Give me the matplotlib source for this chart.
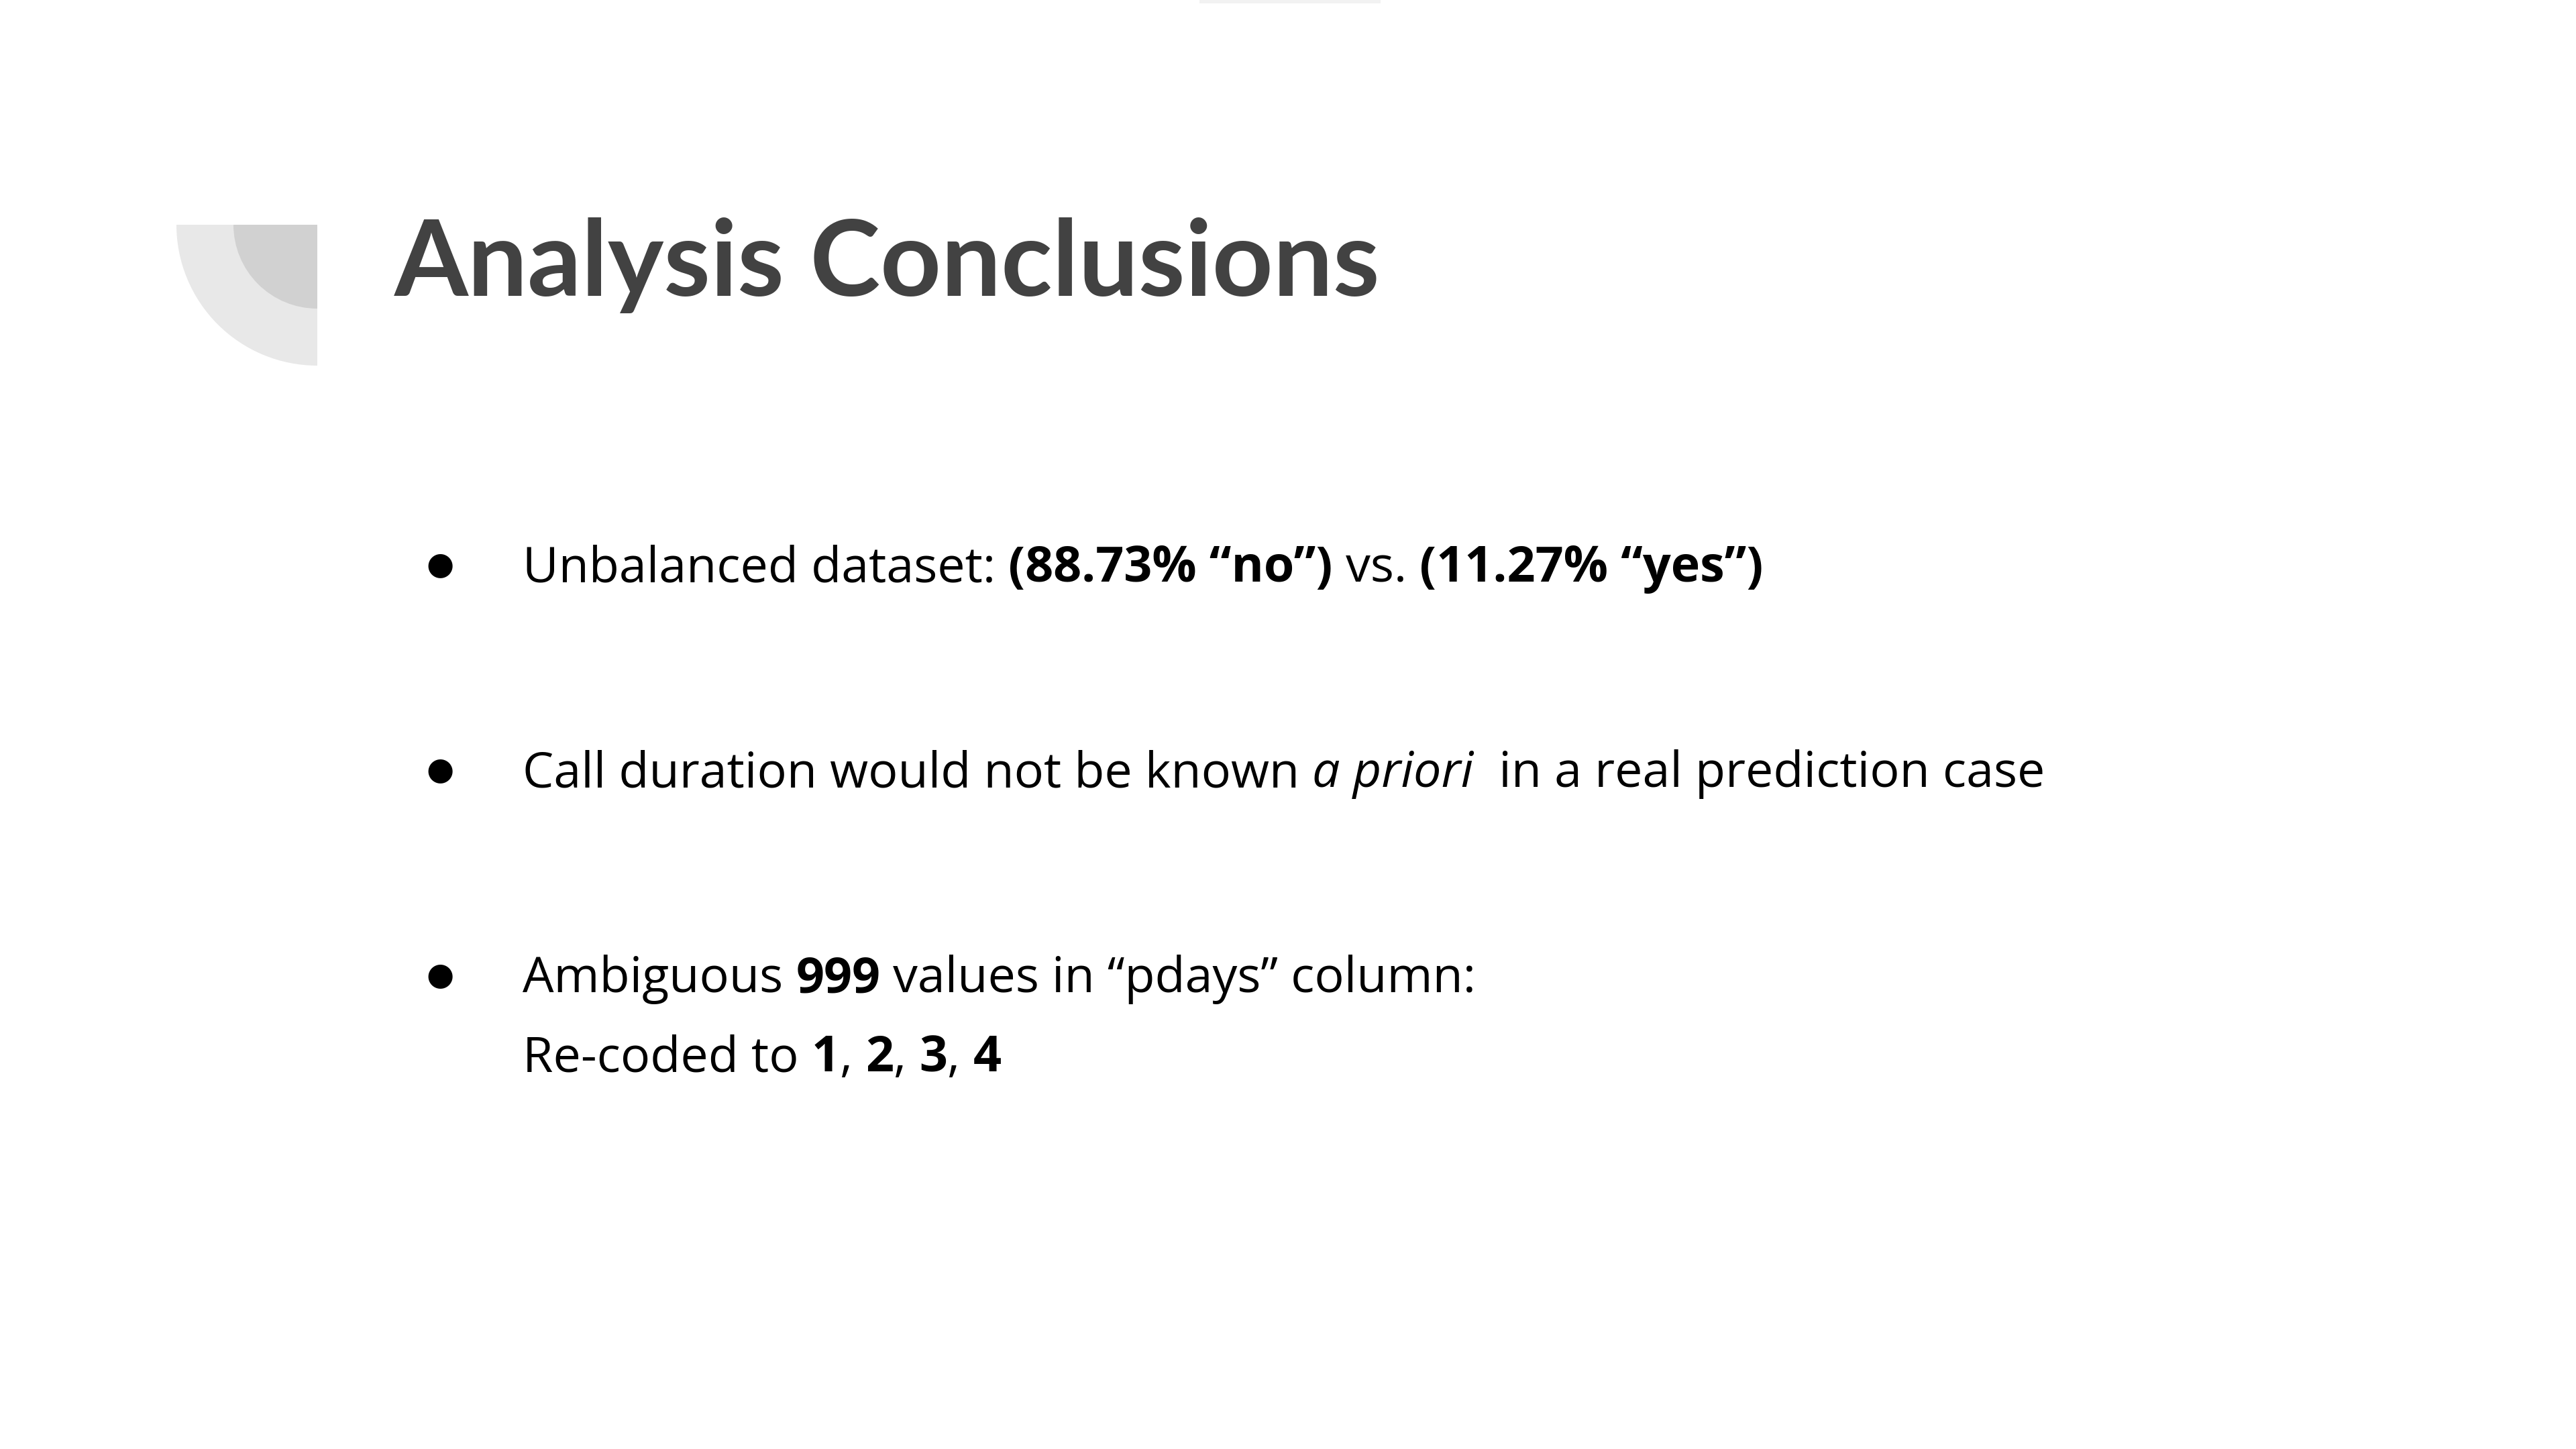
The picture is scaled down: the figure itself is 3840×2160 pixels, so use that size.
import matplotlib
matplotlib.use("Agg")
import matplotlib.pyplot as plt
from matplotlib.patches import Wedge, Rectangle

W, H = 3840, 2160
TITLE = "Analysis Conclusions"
# each line: list of (text, style)
LINES = [
    [("Unbalanced dataset: ", "normal"), ("(88.73% \u201cno\u201d)", "bold"),
     (" vs. ", "normal"), ("(11.27% \u201cyes\u201d)", "bold")],
    [("Call duration would not be known ", "normal"), ("a priori", "italic"),
     ("  in a real prediction case", "normal")],
    [("Ambiguous ", "normal"), ("999", "bold"),
     (" values in \u201cpdays\u201d column:", "normal")],
    [("Re-coded to ", "normal"), ("1", "bold"), (", ", "normal"), ("2", "bold"),
     (", ", "normal"), ("3", "bold"), (", ", "normal"), ("4", "bold")],
]
BASELINES = [867, 1173, 1479, 1597]
BULLET_ROWS = [0, 1, 2]

fig = plt.figure(figsize=(W / 100, H / 100), dpi=100)
ax = fig.add_axes([0, 0, 1, 1])
ax.set_xlim(0, W)
ax.set_ylim(H, 0)
ax.axis("off")

# decoration
ax.add_patch(Wedge((473, 335), 210, 90, 180, facecolor="#e8e8e8", edgecolor="none"))
ax.add_patch(Wedge((473, 335), 125, 90, 180, facecolor="#d1d1d1", edgecolor="none"))
ax.add_patch(Rectangle((1788, 0), 270, 5, facecolor="#f2f2f2", edgecolor="none"))

ax.text(588, 441, TITLE, fontsize=114, fontweight="bold", color="#424242",
        family="Lato", va="baseline", ha="left")

r = fig.canvas.get_renderer()
inv = ax.transData.inverted()
for i, (segs, yb) in enumerate(zip(LINES, BASELINES)):
    if i in BULLET_ROWS:
        ax.text(656, yb - 12, "\u25cf", fontsize=34, color="black", family="DejaVu Sans",
                va="baseline", ha="center")
    x = 779
    for txt, st in segs:
        t = ax.text(x, yb, txt, fontsize=53, color="black", family="Open Sans",
                    fontweight="bold" if st == "bold" else "normal",
                    fontstyle="italic" if st == "italic" else "normal",
                    va="baseline", ha="left")
        bb = t.get_window_extent(renderer=r)
        x0 = inv.transform((bb.x0, 0))[0]
        x1 = inv.transform((bb.x1, 0))[0]
        x += x1 - x0

fig.savefig("out.png", dpi=100, facecolor="white")
